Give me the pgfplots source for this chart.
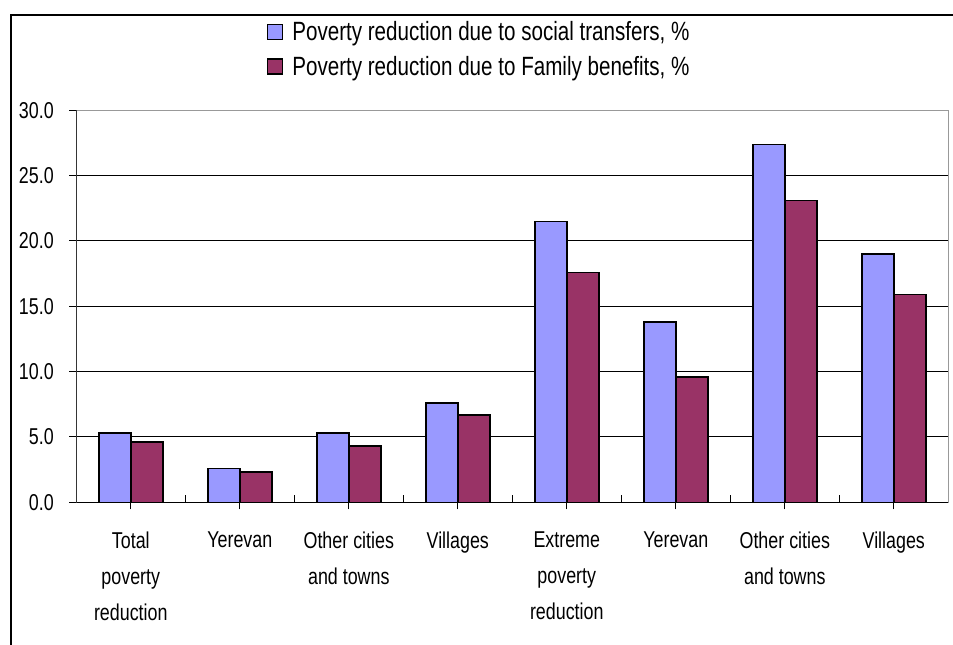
\documentclass[border=0pt]{standalone}
\usepackage{fontspec}
\setmainfont{Liberation Sans}[FakeStretch=0.78]
\usepackage{pgfplots}
\pgfplotsset{compat=1.18}
\definecolor{cblue}{HTML}{9999FF}
\definecolor{cred}{HTML}{993366}
\begin{document}
\begin{tikzpicture}
\useasboundingbox (0bp,0bp) rectangle (953bp,645bp);
\draw[line width=1.2bp] (970bp,630bp) -- (11bp,630bp) -- (11bp,-20bp);
\begin{axis}[
  at={(76.3bp,142.7bp)}, anchor=south west,
  scale only axis, width=872bp, height=392bp,
  ybar=0pt, bar width=32bp,
  xmin=-0.5, xmax=7.5, ymin=0, ymax=30,
  xtick={0,...,7},
  xticklabels={{Total\\poverty\\reduction},{Yerevan},{Other cities\\and towns},{Villages},{Extreme\\poverty\\reduction},{Yerevan},{Other cities\\and towns},{Villages}},
  extra x ticks={0.5,1.5,...,6.5},
  extra x tick labels={},
  extra x tick style={tick align=inside},
  ytick={0,5,...,30},
  tick pos=left,
  tick align=outside,
  major tick length=7bp,
  tick style={black, line width=1bp},
  ymajorgrids,
  major grid style={black, line width=1bp},
  axis line style={draw=gray!80, line width=1.2bp},
  ticklabel style={font=\fontsize{23}{36}\selectfont, text=black},
  xticklabel style={align=center, anchor=north, yshift=-19bp},
  yticklabel style={xshift=-12bp},
  /pgf/number format/.cd, fixed, fixed zerofill, precision=1, assume math mode=true,
  /pgfplots/.cd,
  legend style={at={(0.2183,1.232)}, anchor=north west, draw=none, fill=none,
    font=\fontsize{26.5}{35}\selectfont, row sep=10bp, inner sep=0pt,
    /tikz/every odd column/.append style={column sep=7bp}},
  legend cell align=left,
  legend image code/.code={\draw[#1, draw=black, line width=1.5bp] (0bp,-7.5bp) rectangle (15bp,7.5bp);},
]
\addplot[fill=cblue, draw=black, line width=1.5bp] coordinates {(0,5.3) (1,2.6) (2,5.3) (3,7.6) (4,21.5) (5,13.8) (6,27.4) (7,19.0)};
\addplot[fill=cred, draw=black, line width=1.5bp] coordinates {(0,4.6) (1,2.3) (2,4.3) (3,6.7) (4,17.6) (5,9.6) (6,23.1) (7,15.9)};
\legend{{Poverty reduction due to social transfers, \%},{Poverty reduction due to Family benefits, \%}}
\draw[black, line width=1.2bp] (rel axis cs:0,1) -- (rel axis cs:0,0) -- (rel axis cs:1,0);
\end{axis}
\end{tikzpicture}
\end{document}
